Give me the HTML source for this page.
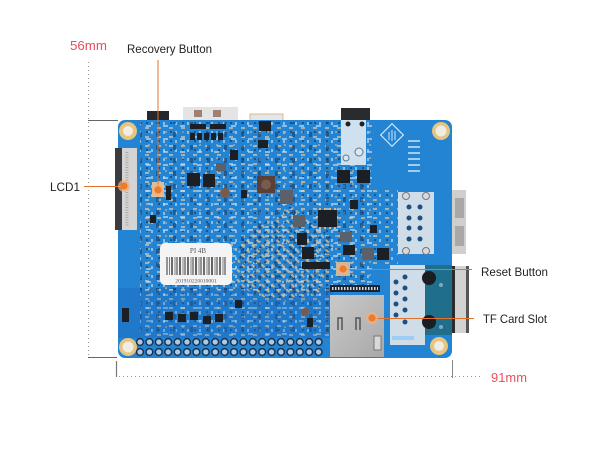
<!DOCTYPE html>
<html><head><meta charset="utf-8"><style>
html,body{margin:0;padding:0;background:#fff;}
svg{display:block;}
text{font-family:"Liberation Sans",Arial,sans-serif;}
</style></head><body>
<svg width="600" height="471" viewBox="0 0 600 471" xmlns="http://www.w3.org/2000/svg">
<defs>
<pattern id="p1" width="12" height="9" patternUnits="userSpaceOnUse">
  <rect x="1" y="1" width="4" height="2" fill="#d8c7a4"/>
  <rect x="7" y="5" width="2" height="3" fill="#b9d6f0"/>
  <rect x="2" y="5" width="2" height="2" fill="#173f6e"/>
</pattern>
<pattern id="p3" width="17" height="13" patternUnits="userSpaceOnUse">
  <rect x="3" y="2" width="3" height="5" fill="#1a3f68"/>
  <rect x="10" y="8" width="5" height="2" fill="#cfe4f7"/>
  <rect x="12" y="1" width="2" height="2" fill="#c9b38e"/>
</pattern>
<pattern id="p2" width="7" height="7" patternUnits="userSpaceOnUse" patternTransform="rotate(45)">
  <rect x="1" y="1" width="4" height="2" fill="#cdbf9f"/>
  <rect x="1" y="4" width="2" height="2" fill="#163e6e"/>
</pattern>
<linearGradient id="tf" x1="0" y1="0" x2="1" y2="1">
  <stop offset="0" stop-color="#c9c9c9"/><stop offset="1" stop-color="#a9a9a9"/>
</linearGradient>
</defs>

<!-- dimension lines -->
<line x1="88.5" y1="62" x2="88.5" y2="357" stroke="#9a9a9a" stroke-width="1" stroke-dasharray="1,3"/>
<line x1="88" y1="120.5" x2="118" y2="120.5" stroke="#666" stroke-width="1"/>
<line x1="88" y1="357.5" x2="117" y2="357.5" stroke="#666" stroke-width="1"/>
<line x1="116.5" y1="361" x2="116.5" y2="377" stroke="#777" stroke-width="1.2"/>
<line x1="119" y1="376.5" x2="482" y2="376.5" stroke="#9a9a9a" stroke-width="1" stroke-dasharray="1,3"/>
<line x1="452.5" y1="360" x2="452.5" y2="378" stroke="#888" stroke-width="1"/>

<!-- top edge connectors -->
<rect x="147" y="111" width="22" height="11" fill="#26282c"/>
<rect x="183" y="107" width="55" height="14" fill="#e4e4e4"/>
<rect x="194" y="110" width="8" height="7" fill="#a08070"/>
<rect x="213" y="110" width="8" height="7" fill="#a08070"/>
<rect x="250" y="114" width="33" height="8" fill="#e6e6e6" stroke="#c8b080" stroke-width="0.8"/>
<rect x="341" y="108" width="29" height="13" fill="#2a2b2e"/>
<rect x="452" y="190" width="14" height="64" fill="#cfcfcf"/>
<rect x="455" y="198" width="9" height="20" fill="#a8a8a8"/>
<rect x="455" y="226" width="9" height="20" fill="#a8a8a8"/>
<rect x="452" y="266" width="17" height="67" fill="#d2d2d2"/>
<rect x="452" y="266" width="3" height="67" fill="#2c2c2c"/>
<rect x="466" y="266" width="3" height="67" fill="#555"/>

<!-- board -->
<rect x="118" y="120" width="334" height="238" rx="7" fill="#2384d4"/>
<rect x="118" y="288" width="215" height="50" fill="#1c6fc2" opacity="0.6"/>
<rect x="140" y="122" width="232" height="168" fill="url(#p1)" opacity="0.7"/>
<rect x="140" y="122" width="232" height="168" fill="url(#p3)" opacity="0.6"/>
<rect x="370" y="190" width="28" height="75" fill="url(#p1)" opacity="0.7"/>
<rect x="140" y="288" width="190" height="48" fill="url(#p1)" opacity="0.5"/>
<rect x="140" y="288" width="190" height="48" fill="url(#p3)" opacity="0.4"/>
<polygon points="240,240 290,205 335,240 320,295 270,300 235,285" fill="url(#p2)" opacity="0.85"/>

<!-- LCD connector -->
<rect x="115" y="148" width="22" height="82" fill="#d4d4d4"/>
<rect x="115" y="148" width="7" height="82" fill="#3a3c40"/>
<line x1="127" y1="152" x2="127" y2="226" stroke="#aaa" stroke-width="3" stroke-dasharray="1,1.5"/>

<!-- mounting holes -->
<g fill="#e6c57e"><circle cx="128" cy="131" r="9"/><circle cx="441" cy="131" r="9"/><circle cx="128" cy="347" r="9"/><circle cx="439" cy="346" r="9"/></g>
<g fill="#efece4"><circle cx="128" cy="131" r="5"/><circle cx="441" cy="131" r="5.5"/><circle cx="128" cy="347" r="5.5"/><circle cx="439" cy="346" r="5"/></g>

<!-- light pad under top black connector -->
<rect x="341" y="120" width="25" height="45" fill="#cfe0ee"/>
<circle cx="348" cy="124" r="2.5" fill="#222"/><circle cx="362" cy="124" r="2.5" fill="#222"/>
<circle cx="359" cy="152" r="4" fill="#dfe7ee" stroke="#5a7a9a"/>
<circle cx="346" cy="158" r="3" fill="#dfe7ee" stroke="#5a7a9a"/>

<!-- logo and label lines top right -->
<rect x="384" y="127" width="16" height="16" fill="none" stroke="#cfe6fa" stroke-width="1.2" transform="rotate(45 392 135)"/>
<line x1="389" y1="132" x2="389" y2="140" stroke="#cfe6fa"/><line x1="392" y1="130" x2="392" y2="141" stroke="#cfe6fa"/><line x1="395" y1="131" x2="395" y2="140" stroke="#cfe6fa"/>
<g fill="#9fcdf2"><rect x="408" y="140" width="12" height="2"/><rect x="408" y="146" width="12" height="2"/><rect x="408" y="152" width="12" height="2"/><rect x="408" y="158" width="12" height="2"/><rect x="408" y="164" width="12" height="2"/><rect x="408" y="170" width="12" height="2"/></g>

<!-- USB footprint -->
<rect x="398" y="192" width="36" height="62" fill="#cfdde9"/>
<g fill="#1e4f80"><circle cx="409" cy="207" r="2.5"/><circle cx="420" cy="207" r="2.5"/><circle cx="409" cy="218" r="2.5"/><circle cx="420" cy="218" r="2.5"/><circle cx="409" cy="228" r="2.5"/><circle cx="420" cy="228" r="2.5"/><circle cx="409" cy="239" r="2.5"/><circle cx="420" cy="239" r="2.5"/></g>
<g fill="#d9d9d9" stroke="#6a7b8c"><circle cx="406" cy="196" r="3.5"/><circle cx="426" cy="196" r="3.5"/><circle cx="406" cy="251" r="3.5"/><circle cx="426" cy="251" r="3.5"/></g>

<!-- ethernet-ish lower right -->
<rect x="390" y="265" width="35" height="80" fill="#cfdde9"/>
<rect x="425" y="265" width="27" height="70" fill="#1f6f8c"/>
<g fill="#1e4f80"><circle cx="396" cy="282" r="2.5"/><circle cx="405" cy="277" r="2.5"/><circle cx="396" cy="293" r="2.5"/><circle cx="405" cy="288" r="2.5"/><circle cx="396" cy="304" r="2.5"/><circle cx="405" cy="299" r="2.5"/><circle cx="396" cy="315" r="2.5"/><circle cx="405" cy="310" r="2.5"/><circle cx="405" cy="322" r="2.5"/></g>
<circle cx="429" cy="278" r="7" fill="#1c1d20"/><circle cx="429" cy="322" r="7" fill="#1c1d20"/>
<circle cx="441" cy="285" r="2" fill="#7fa8c0"/><circle cx="441" cy="327" r="2" fill="#7fa8c0"/>
<rect x="392" y="336" width="22" height="4" fill="#9fcdf2"/>

<!-- TF card -->
<rect x="330" y="295" width="54" height="62" fill="url(#tf)"/>
<path d="M338 330 v-12 h4 v12 M356 330 v-12 h4 v12" fill="none" stroke="#555" stroke-width="1.5"/>
<rect x="374" y="336" width="7" height="14" fill="#d8d8d8" stroke="#666" stroke-width="0.8"/>
<rect x="330" y="285" width="50" height="7" fill="#1d2430"/>
<line x1="332" y1="288.5" x2="378" y2="288.5" stroke="#d8d8d8" stroke-width="3" stroke-dasharray="1.5,1.5"/>

<!-- parts -->
<g fill="#1c1f24">
<rect x="190" y="124" width="16" height="5"/><rect x="210" y="124" width="16" height="5"/>
<rect x="190" y="133" width="5" height="7"/><rect x="197" y="133" width="5" height="7"/><rect x="204" y="133" width="5" height="7"/><rect x="211" y="133" width="5" height="7"/><rect x="218" y="133" width="5" height="7"/>
<rect x="259" y="121" width="12" height="10"/>
<rect x="166" y="186" width="5" height="14"/>
<rect x="187" y="173" width="13" height="13"/><rect x="203" y="174" width="12" height="13"/>
<rect x="337" y="170" width="13" height="13"/><rect x="357" y="170" width="13" height="13"/>
<rect x="318" y="210" width="19" height="17"/>
<rect x="241" y="190" width="6" height="8"/>
<rect x="297" y="233" width="10" height="12"/>
<rect x="302" y="247" width="12" height="12"/>
<rect x="302" y="262" width="28" height="7"/>
<rect x="377" y="248" width="12" height="12"/>
<rect x="343" y="245" width="12" height="10"/>
<rect x="165" y="312" width="8" height="8"/><rect x="178" y="314" width="8" height="8"/><rect x="190" y="312" width="8" height="8"/><rect x="203" y="316" width="8" height="8"/><rect x="215" y="314" width="8" height="8"/>
<rect x="235" y="300" width="7" height="8"/>
<rect x="122" y="308" width="7" height="14"/>
<rect x="307" y="318" width="6" height="9"/>
<rect x="258" y="140" width="10" height="8"/>
<rect x="230" y="150" width="8" height="10"/>
<rect x="350" y="200" width="8" height="9"/>
<rect x="370" y="225" width="7" height="8"/>
<rect x="150" y="215" width="6" height="8"/>
</g>
<g fill="#5c6068">
<rect x="216" y="163" width="10" height="8"/>
<rect x="280" y="190" width="13" height="14"/>
<rect x="293" y="215" width="12" height="12"/>
<rect x="340" y="232" width="12" height="10"/>
<rect x="362" y="248" width="12" height="12"/>
</g>
<rect x="257" y="176" width="18" height="17" fill="#5a4036"/>
<circle cx="266" cy="184.5" r="5" fill="#7a5a4c"/>
<circle cx="225" cy="193" r="5" fill="#7a5a4a"/>
<circle cx="305" cy="312" r="4" fill="#7a5a4a"/>
<g fill="#c9b997"><rect x="319" y="208" width="2" height="2"/><rect x="324" y="208" width="2" height="2"/><rect x="329" y="208" width="2" height="2"/><rect x="334" y="208" width="2" height="2"/><rect x="319" y="227" width="2" height="2"/><rect x="324" y="227" width="2" height="2"/><rect x="329" y="227" width="2" height="2"/><rect x="334" y="227" width="2" height="2"/></g>

<!-- buttons -->
<rect x="152" y="182" width="12" height="15" fill="#d8c09a"/>
<rect x="336" y="262" width="14" height="14" fill="#c9b7a0"/>

<!-- barcode label -->
<rect x="160" y="243" width="72" height="42" rx="5" fill="#f4f4f4"/>
<text x="198" y="253" font-size="7" fill="#555" text-anchor="middle" style="font-family:'Liberation Serif',serif">PI   4B</text>
<g stroke="#333">
<line x1="167" y1="257" x2="167" y2="275" stroke-width="1"/><line x1="169.5" y1="257" x2="169.5" y2="275" stroke-width="0.6"/><line x1="172" y1="257" x2="172" y2="275" stroke-width="1.4"/><line x1="175" y1="257" x2="175" y2="275" stroke-width="0.6"/><line x1="177" y1="257" x2="177" y2="275" stroke-width="1"/><line x1="180" y1="257" x2="180" y2="275" stroke-width="1.5"/><line x1="183" y1="257" x2="183" y2="275" stroke-width="0.6"/><line x1="185" y1="257" x2="185" y2="275" stroke-width="1"/><line x1="188" y1="257" x2="188" y2="275" stroke-width="1.4"/><line x1="191" y1="257" x2="191" y2="275" stroke-width="0.6"/><line x1="193" y1="257" x2="193" y2="275" stroke-width="1"/><line x1="196" y1="257" x2="196" y2="275" stroke-width="1.5"/><line x1="199" y1="257" x2="199" y2="275" stroke-width="0.6"/><line x1="201" y1="257" x2="201" y2="275" stroke-width="1"/><line x1="204" y1="257" x2="204" y2="275" stroke-width="1.4"/><line x1="207" y1="257" x2="207" y2="275" stroke-width="0.6"/><line x1="209" y1="257" x2="209" y2="275" stroke-width="1"/><line x1="212" y1="257" x2="212" y2="275" stroke-width="1.5"/><line x1="215" y1="257" x2="215" y2="275" stroke-width="0.6"/><line x1="217" y1="257" x2="217" y2="275" stroke-width="1"/><line x1="220" y1="257" x2="220" y2="275" stroke-width="1.4"/><line x1="223" y1="257" x2="223" y2="275" stroke-width="0.6"/><line x1="225" y1="257" x2="225" y2="275" stroke-width="1"/>
</g>
<text x="196" y="282.5" font-size="5.5" fill="#555" text-anchor="middle" style="font-family:'Liberation Serif',serif">201910220010001</text>

<!-- GPIO header -->
<g fill="#a9c9e4" stroke="#1b3350" stroke-width="1.5">
<circle cx="140" cy="342" r="3.4"/><circle cx="149.4" cy="342" r="3.4"/><circle cx="158.8" cy="342" r="3.4"/><circle cx="168.2" cy="342" r="3.4"/><circle cx="177.6" cy="342" r="3.4"/><circle cx="187" cy="342" r="3.4"/><circle cx="196.4" cy="342" r="3.4"/><circle cx="205.8" cy="342" r="3.4"/><circle cx="215.2" cy="342" r="3.4"/><circle cx="224.6" cy="342" r="3.4"/><circle cx="234" cy="342" r="3.4"/><circle cx="243.4" cy="342" r="3.4"/><circle cx="252.8" cy="342" r="3.4"/><circle cx="262.2" cy="342" r="3.4"/><circle cx="271.6" cy="342" r="3.4"/><circle cx="281" cy="342" r="3.4"/><circle cx="290.4" cy="342" r="3.4"/><circle cx="299.8" cy="342" r="3.4"/><circle cx="309.2" cy="342" r="3.4"/><circle cx="318.6" cy="342" r="3.4"/>
<circle cx="140" cy="352" r="3.4"/><circle cx="149.4" cy="352" r="3.4"/><circle cx="158.8" cy="352" r="3.4"/><circle cx="168.2" cy="352" r="3.4"/><circle cx="177.6" cy="352" r="3.4"/><circle cx="187" cy="352" r="3.4"/><circle cx="196.4" cy="352" r="3.4"/><circle cx="205.8" cy="352" r="3.4"/><circle cx="215.2" cy="352" r="3.4"/><circle cx="224.6" cy="352" r="3.4"/><circle cx="234" cy="352" r="3.4"/><circle cx="243.4" cy="352" r="3.4"/><circle cx="252.8" cy="352" r="3.4"/><circle cx="262.2" cy="352" r="3.4"/><circle cx="271.6" cy="352" r="3.4"/><circle cx="281" cy="352" r="3.4"/><circle cx="290.4" cy="352" r="3.4"/><circle cx="299.8" cy="352" r="3.4"/><circle cx="309.2" cy="352" r="3.4"/><circle cx="318.6" cy="352" r="3.4"/>
</g>

<!-- leader lines -->
<g stroke="#e0702a" stroke-width="1">
<line x1="158" y1="60" x2="158" y2="190"/>
<line x1="84" y1="186.5" x2="124" y2="186.5"/>
<line x1="343" y1="269.5" x2="472" y2="269.5"/>
<line x1="372" y1="318.5" x2="474" y2="318.5"/>
</g>
<g fill="#f5b07a" opacity="0.7"><circle cx="158" cy="190" r="6"/><circle cx="124" cy="186" r="6"/><circle cx="343" cy="269" r="6"/><circle cx="372" cy="318" r="6"/></g>
<g fill="#ee7a2c"><circle cx="158" cy="190" r="3.6"/><circle cx="124" cy="186" r="3.6"/><circle cx="343" cy="269" r="3.6"/><circle cx="372" cy="318" r="3.6"/></g>

<!-- labels -->
<text x="70" y="50" font-size="13" fill="#e8505b" textLength="37" lengthAdjust="spacingAndGlyphs">56mm</text>
<text x="127" y="53" font-size="12" fill="#222" textLength="85" lengthAdjust="spacingAndGlyphs">Recovery Button</text>
<text x="50" y="191" font-size="12" fill="#222" textLength="30" lengthAdjust="spacingAndGlyphs">LCD1</text>
<text x="481" y="276" font-size="12" fill="#222" textLength="67" lengthAdjust="spacingAndGlyphs">Reset Button</text>
<text x="483" y="323" font-size="12" fill="#222" textLength="64" lengthAdjust="spacingAndGlyphs">TF Card Slot</text>
<text x="491" y="382" font-size="13" fill="#e8505b" textLength="36" lengthAdjust="spacingAndGlyphs">91mm</text>
</svg>
</body></html>
